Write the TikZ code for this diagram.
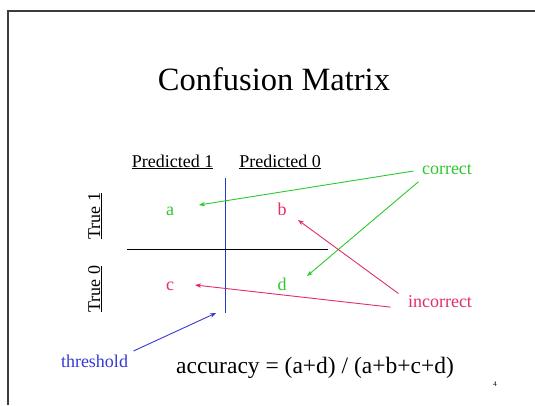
\documentclass[tikz,border=0pt]{standalone}
\usepackage{fontspec}
\setmainfont{Liberation Serif}
\usetikzlibrary{arrows.meta}
\definecolor{cgreen}{RGB}{45,200,45}
\definecolor{cpink}{RGB}{225,45,105}
\definecolor{cblue}{RGB}{55,55,215}
\definecolor{vblue}{RGB}{35,60,200}
\definecolor{frame}{RGB}{60,60,60}
\tikzset{
  lbl/.style={inner sep=3.33pt, font=\fontsize{18}{21}\selectfont, anchor=base},
  arr/.style={line width=0.9pt, -{Stealth[length=6pt,width=4.5pt]}},
}
\begin{document}
\begin{tikzpicture}[x=1pt,y=-1pt]
\useasboundingbox (0,0) rectangle (535,405);
% frame
\draw[frame, line width=1.3pt] (8,405) -- (8,11) -- (535,11);
% title
\node[anchor=base, inner sep=0pt, font=\fontsize{32.5}{38}\selectfont] (title) at (274,90) {Confusion Matrix};
% column headers
\node[lbl] (p1) at (172.5,167) {\underline{Predicted 1}};
\node[lbl] (p0) at (280,167) {\underline{Predicted 0}};
% row headers
\node[lbl, rotate=90] (t1) at (100,216) {\underline{True 1}};
\node[lbl, rotate=90] (t0) at (100,289) {\underline{True 0}};
% grid lines
\coordinate (vtop) at (225.5,178);
\coordinate (vbot) at (225.5,313);
\coordinate (hl) at (127,249);
\coordinate (hr) at (328,249);
\draw[vblue, line width=1pt] (vtop) -- (vbot);
\draw[black, line width=0.9pt] (hl) -- (hr);
% cells
\node[lbl, text=cgreen] (a) at (170,215) {a};
\node[lbl, text=cpink] (b) at (282,215) {b};
\node[lbl, text=cpink] (c) at (170,290) {c};
\node[lbl, text=cgreen] (d) at (282,290) {d};
% side labels
\node[lbl, text=cgreen] (correct) at (447,174) {correct};
\node[lbl, text=cpink] (incorrect) at (440,307) {incorrect};
\node[lbl, text=cblue] (threshold) at (94.5,367) {threshold};
% formula
\node[anchor=base, inner sep=0pt, font=\fontsize{23.5}{28}\selectfont] (acc) at (315,373) {accuracy = (a+d) / (a+b+c+d)};
\node[anchor=base, inner sep=0pt, font=\fontsize{7}{8}\selectfont] (pg) at (495,386) {4};
% arrow tips
\coordinate (tipa) at (199,205);
\coordinate (tipd) at (307,276);
\coordinate (tipb) at (298,220);
\coordinate (tipc) at (195,285);
\coordinate (tipv) at (216,313);
% arrows
\draw[arr, cgreen] ([xshift=-5pt,yshift=-2pt]correct.west) -- (tipa);
\draw[arr, cgreen] ([yshift=-4pt]correct.south west) -- (tipd);
\draw[arr, cpink] ([xshift=-6pt,yshift=-2pt]incorrect.north west) -- (tipb);
\draw[arr, cpink] ([xshift=-14pt,yshift=-6pt]incorrect.west) -- (tipc);
\draw[arr, cblue] ([xshift=2pt]threshold.north east) -- (tipv);
\end{tikzpicture}
\end{document}
